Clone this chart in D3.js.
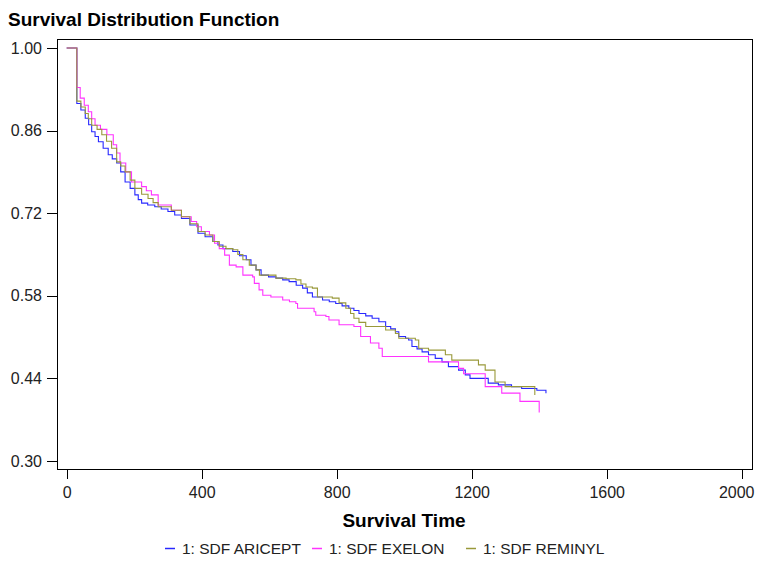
<!DOCTYPE html>
<html>
<head>
<meta charset="utf-8">
<script src="https://cdn.jsdelivr.net/npm/d3@7"></script>
<style>
  html, body { margin: 0; padding: 0; background: #fff; }
  svg { display: block; font-family: "Liberation Sans", Arial, sans-serif; }
</style>
</head>
<body>
<svg id="chart" width="758" height="567"></svg>
<script>
// ---- data ----
const seriesNames = ["1: SDF ARICEPT", "1: SDF EXELON", "1: SDF REMINYL"];
const seriesColors = ["#2828ff", "#ff33ff", "#99993a"];

const aricepTime = [0,30,42,55,65,74,84,94,108,123,135,148,160,173,188,202,212,222,240,261,280,300,320,340,365,389,410,433,448,463,492,512,532,546,561,576,598,620,640,659,680,699,713,728,758,778,797,816,836,851,866,886,905,925,945,960,974,984,1004,1013,1023,1038,1053,1072,1092,1112,1131,1161,1181,1195,1249,1279,1318,1348,1393,1420];
const aricepSurv = [1.00,0.906,0.895,0.881,0.870,0.858,0.850,0.841,0.830,0.819,0.812,0.805,0.790,0.773,0.762,0.751,0.743,0.737,0.734,0.731,0.727,0.723,0.717,0.711,0.700,0.686,0.680,0.672,0.666,0.660,0.655,0.648,0.641,0.632,0.624,0.615,0.612,0.610,0.607,0.604,0.598,0.593,0.585,0.578,0.573,0.570,0.567,0.563,0.559,0.555,0.550,0.546,0.542,0.536,0.528,0.524,0.519,0.511,0.508,0.505,0.494,0.490,0.485,0.480,0.474,0.468,0.460,0.454,0.446,0.440,0.432,0.429,0.426,0.423,0.420,0.415];

const exelonTime = [0,30,40,52,64,74,84,100,119,138,148,158,175,192,222,236,251,271,310,340,369,385,399,423,438,452,468,482,502,522,551,556,570,581,605,640,660,679,684,733,738,768,777,807,851,871,900,925,935,1072,1161,1176,1240,1289,1343,1400];
const exelonSurv = [1.00,0.933,0.915,0.903,0.892,0.880,0.869,0.862,0.853,0.836,0.822,0.805,0.790,0.773,0.765,0.758,0.751,0.734,0.725,0.714,0.706,0.697,0.689,0.683,0.669,0.660,0.649,0.632,0.629,0.615,0.612,0.601,0.590,0.581,0.578,0.573,0.570,0.567,0.559,0.553,0.547,0.545,0.539,0.531,0.528,0.511,0.500,0.491,0.477,0.468,0.457,0.448,0.426,0.415,0.401,0.382];

const reminylTime = [0,30,42,55,64,74,90,104,118,133,148,160,173,188,202,222,241,256,271,310,340,365,389,410,433,452,472,492,507,522,541,561,571,620,650,679,694,709,728,743,787,807,827,841,851,866,886,945,974,984,1033,1043,1072,1122,1141,1220,1240,1269,1299,1387];
const reminylSurv = [1.00,0.910,0.900,0.889,0.880,0.869,0.862,0.853,0.842,0.830,0.807,0.800,0.790,0.776,0.762,0.752,0.745,0.738,0.731,0.725,0.714,0.702,0.689,0.683,0.672,0.664,0.660,0.658,0.650,0.641,0.632,0.624,0.615,0.610,0.609,0.607,0.600,0.595,0.593,0.578,0.576,0.568,0.559,0.550,0.542,0.535,0.528,0.522,0.516,0.508,0.505,0.491,0.488,0.480,0.471,0.463,0.454,0.434,0.426,0.412];

const xTicks = [0, 400, 800, 1200, 1600, 2000];
const yTicks = [0.30, 0.44, 0.58, 0.72, 0.86, 1.00];

const titleText = "Survival Distribution Function";
const xTitle = "Survival Time";

// ---- layout ----
const W = 758;
const svg = d3.select("#chart");
const frame = { left: 57, right: 752, top: 39, bottom: 469 };

const x = d3.scaleLinear().domain([0, 2000]).range([66.7, 741.7]);
const y = d3.scaleLinear().domain([0.30, 1.00]).range([461, 48]);

const series = [
  { name: seriesNames[0], color: seriesColors[0], t: aricepTime, s: aricepSurv },
  { name: seriesNames[1], color: seriesColors[1], t: exelonTime, s: exelonSurv },
  { name: seriesNames[2], color: seriesColors[2], t: reminylTime, s: reminylSurv }
];

// title
svg.append("text")
  .attr("x", 8).attr("y", 26)
  .attr("font-size", 19).attr("font-weight", "bold").attr("fill", "#000")
  .text(titleText);

// frame
svg.append("rect")
  .attr("x", frame.left + 0.5).attr("y", frame.top + 0.5)
  .attr("width", frame.right - frame.left).attr("height", frame.bottom - frame.top)
  .attr("fill", "none").attr("stroke", "#000").attr("stroke-width", 1);

// y axis
const yAxis = svg.append("g")
  .attr("transform", `translate(${frame.left},0)`)
  .call(d3.axisLeft(y).tickValues(yTicks).tickFormat(d3.format(".2f")).tickSize(10).tickPadding(5));
yAxis.select(".domain").remove();
yAxis.selectAll("line").attr("stroke", "#000").attr("shape-rendering", "crispEdges");
yAxis.selectAll("text").attr("font-size", 16).attr("fill", "#222")
  .attr("font-family", "'Liberation Sans', Arial, sans-serif");

// x axis
const xAxis = svg.append("g")
  .attr("transform", `translate(0,${frame.bottom})`)
  .call(d3.axisBottom(x).tickValues(xTicks).tickFormat(d3.format("d")).tickSize(10).tickPadding(8));
xAxis.select(".domain").remove();
xAxis.selectAll("line").attr("stroke", "#000").attr("shape-rendering", "crispEdges");
xAxis.selectAll("text").attr("font-size", 16).attr("fill", "#222")
  .attr("font-family", "'Liberation Sans', Arial, sans-serif")
  .each(function (d) {
    const w = this.getComputedTextLength();
    const overflow = x(d) + w / 2 - (W - 4);
    if (overflow > 0) d3.select(this).attr("x", -overflow);
  });

// x title
svg.append("text")
  .attr("x", 404).attr("y", 527)
  .attr("text-anchor", "middle")
  .attr("font-size", 19).attr("font-weight", "bold").attr("fill", "#000")
  .text(xTitle);

// curves
const line = d3.line()
  .x(d => x(d[0]))
  .y(d => y(d[1]))
  .curve(d3.curveStepAfter);

svg.append("g").selectAll("path")
  .data(series)
  .join("path")
  .attr("d", d => line(d.t.map((t, i) => [t, d.s[i]])))
  .attr("fill", "none")
  .attr("stroke", d => d.color)
  .attr("stroke-width", 1.1);

// legend
const legendX = [165, 312, 466];
const legend = svg.append("g");
series.forEach((d, i) => {
  const lx = legendX[i];
  legend.append("line")
    .attr("x1", lx).attr("x2", lx + 10)
    .attr("y1", 548.5).attr("y2", 548.5)
    .attr("stroke", d.color).attr("stroke-width", 1.5);
  legend.append("text")
    .attr("x", lx + 17).attr("y", 554)
    .attr("font-size", 15.5).attr("fill", "#222")
    .text(d.name);
});
</script>
</body>
</html>
